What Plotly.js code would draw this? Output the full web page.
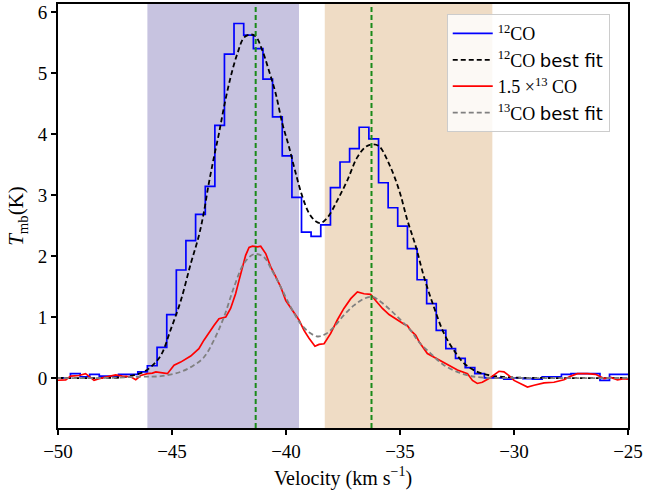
<!DOCTYPE html>
<html>
<head>
<meta charset="utf-8">
<script src="https://cdn.plot.ly/plotly-3.0.1.min.js"></script>
<style>html,body{margin:0;padding:0;background:#fff}#chart{width:649px;height:496px}</style>
</head>
<body>
<div id="chart"></div>
<script>
// 12CO spectrum (channel centres, km/s) and T_mb (K)
var vel12 = [-50.09,-49.67,-49.24,-48.82,-48.40,-47.98,-47.56,-47.13,-46.71,-46.29,
  -45.87,-45.44,-45.02,-44.60,-44.18,-43.75,-43.33,-42.91,-42.49,-42.07,
  -41.64,-41.22,-40.80,-40.38,-39.95,-39.53,-39.11,-38.69,-38.26,-37.84,
  -37.42,-37.00,-36.58,-36.15,-35.73,-35.31,-34.89,-34.46,-34.04,-33.62,
  -33.20,-32.78,-32.35,-31.93,-31.51,-31.09,-30.66,-30.24,-29.82,-29.40,
  -28.98,-28.55,-28.13,-27.71,-27.29,-26.86,-26.44,-26.02,-25.60,-25.17,-24.75];
var t12 = [0.00,0.00,0.07,0.02,0.06,0.03,0.03,0.06,0.06,0.10,
  0.20,0.50,1.04,1.77,2.25,2.68,3.14,4.14,5.31,5.81,
  5.62,5.40,4.90,4.28,3.64,2.96,2.39,2.32,2.51,3.12,
  3.54,3.76,4.11,3.92,3.20,2.79,2.49,2.12,1.61,1.22,
  0.78,0.48,0.32,0.17,0.07,0.00,0.00,-0.02,0.00,-0.01,
  -0.02,0.02,0.02,0.06,0.07,0.07,0.07,-0.04,0.06,0.06,0.06];

// 12CO best fit
var velFit12 = [-50.00,-48.13,-47.25,-46.74,-46.30,-45.93,-45.49,-45.05,-44.62,-44.18,
  -43.83,-43.61,-43.39,-43.16,-42.94,-42.72,-42.43,-42.13,-41.84,-41.55,
  -41.33,-41.04,-40.75,-40.45,-40.16,-39.87,-39.57,-39.28,-38.99,-38.70,
  -38.48,-38.18,-37.75,-37.31,-36.87,-36.50,-36.21,-35.92,-35.48,-35.04,
  -34.68,-34.31,-33.95,-33.51,-33.07,-32.63,-32.19,-31.61,-31.02,-30.14,-28.82,-25.00];
var tFit12 = [0.00,0.00,0.01,0.04,0.09,0.18,0.37,0.80,1.26,1.87,
  2.32,2.70,3.18,3.62,4.01,4.44,4.93,5.32,5.58,5.63,
  5.60,5.37,5.04,4.66,4.17,3.79,3.35,2.97,2.70,2.57,
  2.54,2.63,2.91,3.24,3.62,3.79,3.83,3.80,3.51,3.08,
  2.59,2.16,1.66,1.16,0.73,0.45,0.24,0.10,0.04,0.01,0.00,0.00];

// 1.5 x 13CO spectrum
var vel13 = [-50.10,-49.66,-49.44,-49.08,-48.79,-48.64,-48.42,-48.20,-47.76,-47.47,
  -47.18,-46.81,-46.59,-46.37,-46.08,-45.86,-45.71,-45.49,-45.20,-44.91,
  -44.62,-44.18,-43.82,-43.60,-43.38,-43.16,-42.94,-42.64,-42.43,-42.21,
  -42.06,-41.91,-41.77,-41.62,-41.47,-41.25,-41.11,-40.89,-40.67,-40.45,
  -40.23,-40.01,-39.72,-39.43,-39.21,-38.99,-38.73,-38.55,-38.33,-38.04,
  -37.75,-37.46,-37.16,-36.87,-36.58,-36.29,-36.07,-35.77,-35.48,-35.11,
  -34.82,-34.68,-34.53,-34.31,-34.14,-33.80,-33.36,-32.92,-32.48,-32.04,
  -31.82,-31.61,-31.39,-31.10,-30.80,-30.66,-30.44,-30.22,-30.00,-29.71,
  -29.41,-29.12,-28.68,-28.25,-27.81,-27.51,-27.22,-26.78,-26.42,-26.05,
  -25.76,-25.46,-25.18,-25.00];
var t13 = [-0.04,-0.03,0.03,0.04,0.07,0.02,-0.04,-0.01,0.03,0.05,
  0.03,0.02,-0.03,0.04,0.07,0.08,0.10,0.09,0.07,0.21,
  0.26,0.36,0.48,0.62,0.75,0.86,0.97,1.00,1.14,1.38,
  1.60,1.82,2.01,2.14,2.16,2.15,2.16,2.04,1.82,1.66,
  1.49,1.27,1.11,0.95,0.78,0.65,0.52,0.55,0.56,0.73,
  0.95,1.14,1.30,1.41,1.38,1.37,1.27,1.14,1.04,0.95,
  0.88,0.86,0.78,0.70,0.58,0.40,0.31,0.21,0.13,0.07,
  -0.04,-0.09,-0.07,-0.01,0.07,0.11,0.10,0.04,-0.04,-0.09,
  -0.15,-0.12,-0.08,-0.07,-0.03,0.03,0.07,0.07,0.06,-0.01,
  0.01,-0.03,-0.01,-0.02];

// 13CO best fit
var velFit13 = [-50.10,-48.10,-46.37,-45.49,-44.62,-44.04,-43.60,-43.16,-42.72,-42.28,
  -41.84,-41.40,-40.96,-40.67,-40.23,-39.79,-39.36,-38.99,-38.62,-38.26,
  -37.89,-37.46,-37.02,-36.58,-36.21,-35.85,-35.41,-34.97,-34.53,-34.17,
  -33.65,-33.07,-32.19,-31.46,-29.70,-25.00];
var tFit13 = [0.00,0.00,0.02,0.03,0.10,0.21,0.34,0.62,1.00,1.49,
  1.88,2.03,1.98,1.80,1.49,1.16,0.89,0.75,0.68,0.72,
  0.84,1.03,1.19,1.30,1.33,1.25,1.11,0.95,0.78,0.59,
  0.40,0.21,0.06,0.01,0.00,0.00];

// velocity ranges of the two shaded components and fitted centres
var bandStart = [-46.08, -38.30];
var bandEnd = [-39.43, -30.95];
var bandColor = ['rgb(199,195,224)', 'rgb(239,220,197)'];
var peakVel = [-41.33, -36.25];

var legendNames = ['<sup>12</sup>CO',
  '<sup>12</sup>CO <span style="font-family:DejaVu Sans">best fit</span>',
  '1.5 ×<sup>13</sup> CO',
  '<sup>13</sup>CO <span style="font-family:DejaVu Sans">best fit</span>'];

var traces = [
  {x: vel12, y: t12, mode: 'lines', line: {color: '#0000ff', width: 1.7, shape: 'hvh'}, name: legendNames[0]},
  {x: velFit12, y: tFit12, mode: 'lines', line: {color: '#000000', width: 1.8, dash: '5px,3px', shape: 'spline'}, name: legendNames[1]},
  {x: vel13, y: t13, mode: 'lines', line: {color: '#ff0000', width: 1.7}, name: legendNames[2]},
  {x: velFit13, y: tFit13, mode: 'lines', line: {color: '#808080', width: 1.8, dash: '5px,3px', shape: 'spline'}, name: legendNames[3]}
];

var shapes = [];
for (var i = 0; i < bandStart.length; i++) {
  shapes.push({type: 'rect', xref: 'x', yref: 'paper', x0: bandStart[i], x1: bandEnd[i], y0: 0, y1: 1,
    fillcolor: bandColor[i], line: {width: 0}, layer: 'below'});
}
for (var j = 0; j < peakVel.length; j++) {
  shapes.push({type: 'line', xref: 'x', yref: 'paper', x0: peakVel[j], x1: peakVel[j], y0: 0, y1: 1,
    line: {color: '#1a8a1a', width: 2, dash: '5px,3px'}, layer: 'above'});
}

var serif = 'Liberation Serif';
var layout = {
  width: 649, height: 496,
  margin: {l: 58, r: 21, t: 4, b: 68},
  paper_bgcolor: '#ffffff', plot_bgcolor: 'rgba(0,0,0,0)',
  font: {family: serif, size: 19, color: '#000'},
  showlegend: true,
  legend: {x: 0.682, y: 0.976, xanchor: 'left', yanchor: 'top', itemwidth: 40,
    bgcolor: 'rgba(255,255,255,0.82)', bordercolor: '#cccccc', borderwidth: 1,
    font: {family: serif, size: 18, color: '#000'}},
  xaxis: {range: [-50, -25], tickvals: [-50, -45, -40, -35, -30, -25],
    ticks: 'outside', ticklen: 5, tickwidth: 1.5, tickcolor: '#000',
    tickfont: {family: serif, size: 19},
    showline: true, linecolor: '#000', linewidth: 2, mirror: true,
    showgrid: false, zeroline: false,
    title: {text: 'Velocity (km s<sup>−1</sup>)', font: {family: serif, size: 20}, standoff: 10}},
  yaxis: {range: [-0.82, 6.13], tickvals: [0, 1, 2, 3, 4, 5, 6],
    ticks: 'outside', ticklen: 5, tickwidth: 1.5, tickcolor: '#000',
    tickfont: {family: serif, size: 19},
    showline: true, linecolor: '#000', linewidth: 2, mirror: true,
    showgrid: false, zeroline: false,
    title: {text: '<i>T</i><sub>mb</sub>(K)', font: {family: serif, size: 21}, standoff: 8}},
  shapes: shapes
};

Plotly.newPlot('chart', traces, layout, {displayModeBar: false});
</script>
</body>
</html>
